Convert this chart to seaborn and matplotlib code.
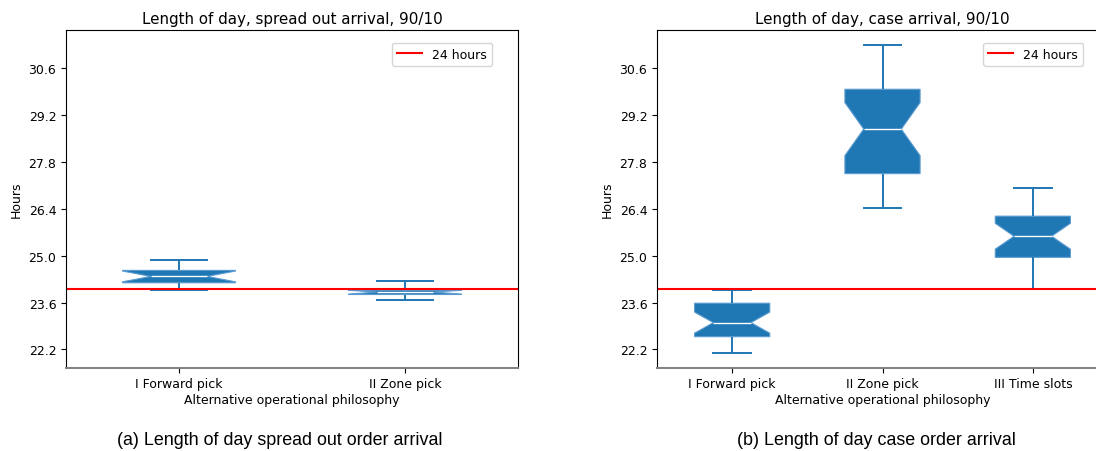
import matplotlib
matplotlib.use("Agg")
import matplotlib.pyplot as plt
import seaborn as sns
import pandas as pd

# ---- data ----
left_categories = ["I Forward pick", "II Zone pick"]
left_forward = [23.97, 24.05, 24.12, 24.19, 24.25, 24.32, 24.38, 24.44, 24.50, 24.56, 24.65, 24.76, 24.88]
left_zone = [23.69, 23.76, 23.80, 23.84, 23.87, 23.89, 23.91, 23.93, 23.95, 23.97, 24.03, 24.12, 24.24]

right_categories = ["I Forward pick", "II Zone pick", "III Time slots"]
right_forward = [22.09, 22.21, 22.30, 22.38, 22.45, 22.52, 22.58, 22.64, 22.71, 22.79, 22.86, 22.93, 23.00,
                 23.08, 23.17, 23.26, 23.37, 23.48, 23.58, 23.64, 23.70, 23.76, 23.83, 23.90, 23.97]
right_zone = [26.41, 26.70, 26.95, 27.12, 27.25, 27.36, 27.45, 27.66, 27.90, 28.15, 28.40, 28.60, 28.78,
              28.95, 29.15, 29.40, 29.62, 29.82, 29.97, 30.15, 30.38, 30.60, 30.82, 31.05, 31.29]
right_slots = [24.01, 24.25, 24.46, 24.62, 24.75, 24.86, 24.95, 25.05, 25.16, 25.27, 25.38, 25.48, 25.58,
               25.67, 25.77, 25.88, 25.98, 26.08, 26.18, 26.30, 26.43, 26.57, 26.72, 26.88, 27.03]

yticks = [22.2, 23.6, 25.0, 26.4, 27.8, 29.2, 30.6]
reference_hours = 24
titles = ["Length of day, spread out arrival, 90/10", "Length of day, case arrival, 90/10"]
captions = ["(a) Length of day spread out order arrival", "(b) Length of day case order arrival"]

left_df = pd.DataFrame({
    "philosophy": [left_categories[0]] * len(left_forward) + [left_categories[1]] * len(left_zone),
    "hours": left_forward + left_zone,
})
right_df = pd.DataFrame({
    "philosophy": ([right_categories[0]] * len(right_forward) + [right_categories[1]] * len(right_zone)
                   + [right_categories[2]] * len(right_slots)),
    "hours": right_forward + right_zone + right_slots,
})

W, H = 1096, 452
fig = plt.figure(figsize=(W / 100, H / 100), dpi=100)
ax1 = fig.add_axes([66 / W, (H - 368.5) / H, 452 / W, 337.5 / H])
ax2 = fig.add_axes([657 / W, (H - 368.5) / H, 451 / W, 337.5 / H])

blue = "#1f77b4"
fs = 9.0
for ax, df, cats, title, lx in [(ax1, left_df, left_categories, titles[0], 0.9425),
                                (ax2, right_df, right_categories, titles[1], 0.9446)]:
    sns.boxplot(data=df, x="philosophy", y="hours", order=cats, ax=ax,
                notch=True, width=0.5, saturation=1, color=blue, linecolor=blue,
                whis=(0, 100), linewidth=1.4,
                medianprops=dict(color="white", linewidth=1),
                boxprops=dict(edgecolor="#5b9bd0", linewidth=0.8))
    ax.axhline(reference_hours, color="red", linewidth=1.5, label="24 hours")
    ax.set_ylim(21.66, 31.74)
    ax.set_yticks(yticks)
    ax.set_yticklabels([f"{t:.1f}" for t in yticks], fontsize=fs)
    ax.tick_params(axis="x", labelsize=fs)
    ax.set_xlabel("Alternative operational philosophy", fontsize=fs, labelpad=2)
    ax.set_ylabel("Hours", fontsize=fs)
    ax.set_title(title, fontsize=10.9, pad=5)
    ax.spines["bottom"].set_color("#808080")
    ax.spines["bottom"].set_linewidth(1.4)
    ax.legend(loc="upper right", fontsize=fs, bbox_to_anchor=(lx, 0.962), borderaxespad=0)

fig.text(280 / W, 1 - 441 / H, captions[0], ha="center", va="center",
         fontfamily="Liberation Sans", fontsize=12.9)
fig.text(876 / W, 1 - 441 / H, captions[1], ha="center", va="center",
         fontfamily="Liberation Sans", fontsize=12.9)

fig.savefig("out.png", dpi=100)
